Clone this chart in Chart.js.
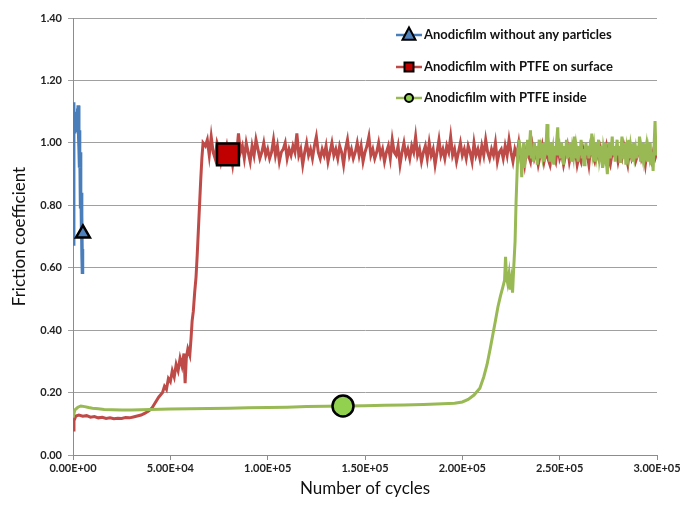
<!DOCTYPE html>
<html><head><meta charset="utf-8">
<script src="https://cdn.jsdelivr.net/npm/chart.js@4.4.1/dist/chart.umd.min.js"></script>
<style>html,body{margin:0;padding:0;background:#fff}canvas{display:block}</style>
</head><body>
<canvas id="c" width="696" height="506"></canvas>
<script>
const seriesNames = ['Anodicfilm without any particles', 'Anodicfilm with PTFE on surface', 'Anodicfilm with PTFE inside'];
const xTickLabels = ['0.00E+00','5.00E+04','1.00E+05','1.50E+05','2.00E+05','2.50E+05','3.00E+05'];
const yTickLabels = ['0.00','0.20','0.40','0.60','0.80','1.00','1.20','1.40'];

const blueX = [0,200,350,500,700,900,1100,1300,1500,1700,1900,2100,2300,2500,2700,2900,3000,3150,3300,3450,3600,3750,3900,4050,4200,4350,4500,4650,4800,4950];
const blueY = [1.05,1.13,0.67,1.04,1.07,1.03,1.08,1.05,1.10,1.04,1.09,1.06,1.11,1.05,1.12,1.08,1.02,0.98,1.04,0.92,0.97,0.86,0.90,0.79,0.84,0.72,0.77,0.64,0.58,0.66];

const redX = [0,500,1500,3000,5000,7000,9000,11000,13000,15000,17000,19000,21000,23000,25000,27000,29000,31000,33000,35000,37000,39000,40500,42000,44000,46000,47000,48000,49000,50000,51000,52000,53000,54000,55000,56000,57000,57600,58200,59000,60000,60600,61200,61800,62500,63200,63800,64400,65000,65600,66200,66800,
68000,69000,
70000,71000,72000,73000,74000,75000,76000,77000,78000,79000,
80000,81000,82000,83000,84000,85000,86000,87000,88000,89000,
90000,91000,92000,93000,94000,95000,96000,97000,98000,99000,
100000,101000,102000,103000,104000,105000,106000,107000,108000,109000,
110000,111000,112000,113000,114000,115000,116000,117000,118000,119000,
120000,121000,122000,123000,124000,125000,126000,127000,128000,129000,
130000,131000,132000,133000,134000,135000,136000,137000,138000,139000,
140000,141000,142000,143000,144000,145000,146000,147000,148000,149000,
150000,151000,152000,153000,154000,155000,156000,157000,158000,159000,
160000,161000,162000,163000,164000,165000,166000,167000,168000,169000,
170000,171000,172000,173000,174000,175000,176000,177000,178000,179000,
180000,181000,182000,183000,184000,185000,186000,187000,188000,189000,
190000,191000,192000,193000,194000,195000,196000,197000,198000,199000,
200000,201000,202000,203000,204000,205000,206000,207000,208000,209000,
210000,211000,212000,213000,214000,215000,216000,217000,218000,219000,
220000,221000,222000,223000,224000,225000,226000,227000,228000,229000,
230000,231000,232000,233000,234000,235000,236000,237000,238000,239000,
240000,241000,242000,243000,244000,245000,246000,247000,248000,249000,
250000,251000,252000,253000,254000,255000,256000,257000,258000,259000,
260000,261000,262000,263000,264000,265000,266000,267000,268000,269000,
270000,271000,272000,273000,274000,275000,276000,277000,278000,279000,
280000,281000,282000,283000,284000,285000,286000,287000,288000,289000,
290000,291000,292000,293000,294000,295000,296000,297000,298000,299000,
300000];
const redY = [0.08,0.11,0.125,0.128,0.124,0.126,0.121,0.123,0.119,0.121,0.117,0.119,0.116,0.118,0.117,0.12,0.119,0.122,0.125,0.128,0.134,0.142,0.15,0.165,0.185,0.20,0.22,0.21,0.245,0.235,0.27,0.25,0.29,0.27,0.31,0.285,0.325,0.23,0.31,0.34,0.32,0.37,0.43,0.46,0.52,0.57,0.64,0.72,0.80,0.88,0.95,1.00,
0.99,1.01,
0.96,1.02,0.97,0.95,1.00,0.98,0.94,0.97,0.96,0.99,
0.95,0.97,0.93,0.98,0.96,1.03,0.97,0.99,0.95,1.00,
0.97,0.94,0.99,0.96,1.01,0.98,0.95,0.97,1.00,0.96,
0.98,0.95,0.97,1.01,0.96,0.99,0.94,0.97,0.98,1.00,
0.95,0.98,0.96,0.99,0.97,1.03,0.96,0.98,0.93,0.97,
1.00,0.96,0.98,0.95,0.99,1.02,0.97,0.95,0.98,0.96,
0.99,0.94,0.97,1.00,0.96,0.98,0.95,0.99,0.97,0.93,
0.98,1.01,0.96,0.98,0.95,0.97,1.00,0.96,0.99,0.94,
0.97,0.99,1.02,0.96,0.98,0.95,0.97,1.00,0.96,0.98,
0.94,0.97,0.99,0.95,1.01,0.97,0.96,0.99,0.93,0.97,
1.00,0.96,0.98,0.95,0.99,0.97,1.02,0.96,0.98,0.94,
0.97,0.99,0.95,1.00,0.96,0.98,0.93,0.97,1.01,0.96,
0.98,0.95,0.99,0.97,1.02,0.96,0.98,0.94,0.97,1.00,
0.96,0.98,0.95,0.99,0.97,0.94,1.00,0.96,0.98,0.95,
0.99,0.96,1.01,0.97,0.95,0.98,0.96,1.00,0.94,0.97,
0.98,0.95,0.99,0.96,1.01,0.97,0.94,0.98,0.96,1.00,
0.95,0.97,0.93,0.98,0.96,0.94,0.99,0.95,0.97,0.93,
0.96,0.99,0.94,0.97,0.95,0.93,0.98,0.96,0.94,0.99,
0.95,0.97,0.93,0.96,0.99,0.94,0.97,0.95,0.98,0.93,
0.96,0.94,0.98,0.95,0.97,0.93,0.99,0.96,0.94,0.97,
0.95,0.98,0.94,0.96,0.99,0.95,0.93,0.97,0.96,0.98,
0.94,0.97,0.95,0.99,0.96,0.93,0.98,0.95,0.97,0.94,
0.96,0.99,0.95,0.97,0.93,0.98,0.96,0.94,0.97,0.95,
0.97];

const greenX = [0,1000,2500,4000,6000,8000,10000,13000,16000,20000,25000,30000,35000,40000,50000,60000,70000,80000,90000,100000,110000,120000,130000,140000,150000,160000,170000,180000,190000,196000,200000,203000,206000,209000,211000,212700,214300,215800,217000,218300,219600,220900,221700,222200,222700,223300,224000,224600,225200,225800,226400,227100,227600,228100,228600,229100,
230000,230500,231000,231500,232000,232500,233000,233500,234000,234500,
235000,235500,236000,236500,237000,237500,238000,238500,239000,239500,
240000,240500,241000,241500,242000,242500,243000,243500,244000,244500,
245000,245500,246000,246500,247000,247500,248000,248500,249000,249500,
250000,250500,251000,251500,252000,252500,253000,253500,254000,254500,
255000,255500,256000,256500,257000,257500,258000,258500,259000,259500,
260000,260500,261000,261500,262000,262500,263000,263500,264000,264500,
265000,265500,266000,266500,267000,267500,268000,268500,269000,269500,
270000,270500,271000,271500,272000,272500,273000,273500,274000,274500,
275000,275500,276000,276500,277000,277500,278000,278500,279000,279500,
280000,280500,281000,281500,282000,282500,283000,283500,284000,284500,
285000,285500,286000,286500,287000,287500,288000,288500,289000,289500,
290000,290500,291000,291500,292000,292500,293000,293500,294000,294500,
295000,295500,296000,296500,297000,297500,298000,298500,299000,299500,
300000];
const greenY = [0.12,0.145,0.153,0.157,0.155,0.152,0.150,0.148,0.146,0.145,0.144,0.144,0.145,0.146,0.147,0.148,0.149,0.150,0.151,0.152,0.153,0.155,0.156,0.157,0.158,0.159,0.160,0.162,0.164,0.166,0.170,0.178,0.192,0.214,0.25,0.29,0.34,0.39,0.43,0.475,0.51,0.54,0.56,0.635,0.57,0.55,0.58,0.53,0.56,0.52,0.60,0.685,0.81,0.90,0.98,1.01,
0.97,0.89,0.95,1.00,0.92,0.98,0.95,1.01,0.96,0.99,
1.04,0.95,0.98,0.94,1.00,0.96,0.99,0.93,0.97,1.01,
0.95,0.98,0.96,1.00,0.94,0.97,0.99,1.06,0.96,0.98,
0.94,1.00,0.96,0.98,0.93,0.99,0.96,1.01,1.05,0.96,
0.98,0.95,1.00,0.97,0.93,0.99,0.96,1.01,0.95,0.98,
0.97,1.00,0.94,0.98,0.96,1.02,0.95,0.99,0.97,0.94,
0.99,0.96,1.01,0.95,0.98,0.93,0.97,1.00,0.96,0.99,
0.95,0.98,0.96,1.03,0.97,0.99,0.94,1.00,0.96,0.98,
1.01,0.95,0.97,0.99,0.92,0.98,0.96,1.00,0.94,0.90,
0.97,1.00,0.95,0.98,1.02,0.96,0.99,0.94,0.97,1.01,
0.96,0.99,0.94,0.98,1.02,0.95,0.97,1.00,0.93,0.98,
0.96,1.01,0.95,0.99,0.97,0.94,1.00,0.96,0.98,0.95,
0.99,0.96,1.02,0.94,0.98,0.96,1.00,0.95,0.97,0.99,
0.94,0.98,0.96,1.00,0.93,0.97,0.91,0.99,1.07,0.96,
0.98];

const markerX = [5100, 79600, 138700];
const markerY = [0.71, 0.963, 0.157];

const lineColors = ['#4A7EBB', '#BE4B48', '#98B954'];
const markerFills = ['#4F81BD', '#C00000', '#92D050'];
const markerStyles = ['triangle', 'rect', 'circle'];

function pts(xs, ys) { return xs.map((x, i) => ({x: x, y: ys[i]})); }

const lineSets = [
  {label: seriesNames[0], data: pts(blueX, blueY), borderColor: lineColors[0], order: 2, borderWidth: 3.5},
  {label: seriesNames[1], data: pts(redX, redY), borderColor: lineColors[1], order: 4, borderWidth: 3},
  {label: seriesNames[2], data: pts(greenX, greenY), borderColor: lineColors[2], order: 3, borderWidth: 3}
].map(d => Object.assign(d, {pointRadius: 0, tension: 0, fill: false}));

const markerRadius = [8, 15.5, 10.5];
const markerSets = markerX.map((x, i) => ({
  label: seriesNames[i] + ' marker',
  data: [{x: x, y: markerY[i]}],
  showLine: false,
  pointStyle: markerStyles[i],
  pointRadius: markerRadius[i],
  backgroundColor: markerFills[i],
  borderColor: '#000',
  pointBorderWidth: 2.5,
  borderWidth: 2.5,
  order: 1,
  clip: false
}));

function drawMarker(ctx, style, x, y, r, fill) {
  ctx.save();
  ctx.fillStyle = fill; ctx.strokeStyle = '#000'; ctx.lineWidth = 2;
  ctx.beginPath();
  if (style === 'triangle') {
    ctx.moveTo(x, y - r); ctx.lineTo(x + r * 0.866, y + r * 0.5 + 1); ctx.lineTo(x - r * 0.866, y + r * 0.5 + 1); ctx.closePath();
  } else if (style === 'rect') {
    ctx.rect(x - r, y - r, 2 * r, 2 * r);
  } else {
    ctx.arc(x, y, r, 0, Math.PI * 2);
  }
  ctx.fill(); ctx.stroke();
  ctx.restore();
}

const legendPlugin = {
  id: 'lineMarkerLegend',
  afterDraw(chart) {
    const ctx = chart.ctx;
    const rows = [35, 67, 98];
    const sizes = [7.5, 4.5, 4];
    ctx.save();
    seriesNames.forEach((name, i) => {
      const y = rows[i];
      ctx.strokeStyle = lineColors[i]; ctx.lineWidth = 2.5;
      ctx.beginPath(); ctx.moveTo(396, y); ctx.lineTo(422, y); ctx.stroke();
      drawMarker(ctx, markerStyles[i], 409, y, sizes[i], markerFills[i]);
      ctx.fillStyle = '#111';
      ctx.font = 'bold 13px Lato';
      ctx.textBaseline = 'middle'; ctx.textAlign = 'left';
      ctx.fillText(name, 424, y);
    });
    ctx.restore();
  }
};

const tickFont = {family: 'Lato', size: 11, weight: 'bold'};

new Chart(document.getElementById('c'), {
  type: 'line',
  data: {datasets: lineSets.concat(markerSets)},
  options: {
    responsive: false, animation: false, devicePixelRatio: 1,
    layout: {padding: {top: 9, right: 39, bottom: 0, left: 0}},
    plugins: {legend: {display: false}, tooltip: {enabled: false}},
    scales: {
      x: {
        type: 'linear', min: 0, max: 300000,
        afterFit(s) { s.height = 51; },
        ticks: {stepSize: 50000, autoSkip: false, maxRotation: 0, padding: 2, color: '#222', font: tickFont,
                callback: (v, i) => xTickLabels[i]},
        grid: {drawOnChartArea: false, drawTicks: true, tickLength: 5, color: '#8c8c8c'},
        border: {color: '#8c8c8c', width: 1},
        title: {display: true, text: 'Number of cycles', color: '#111', font: {family: 'Lato', size: 17}, padding: {top: 0, bottom: 7}}
      },
      y: {
        type: 'linear', min: 0, max: 1.4,
        afterFit(s) { s.width = 73; },
        ticks: {stepSize: 0.2, padding: 6, color: '#222', font: tickFont,
                callback: (v, i) => yTickLabels[i]},
        grid: {color: '#a0a0a0', tickLength: 5, lineWidth: 1},
        border: {color: '#8c8c8c', width: 1},
        title: {display: true, text: 'Friction coefficient', color: '#111', font: {family: 'Lato', size: 17}, padding: {top: 9, bottom: 0}}
      }
    }
  },
  plugins: [legendPlugin]
});
</script>
</body></html>
